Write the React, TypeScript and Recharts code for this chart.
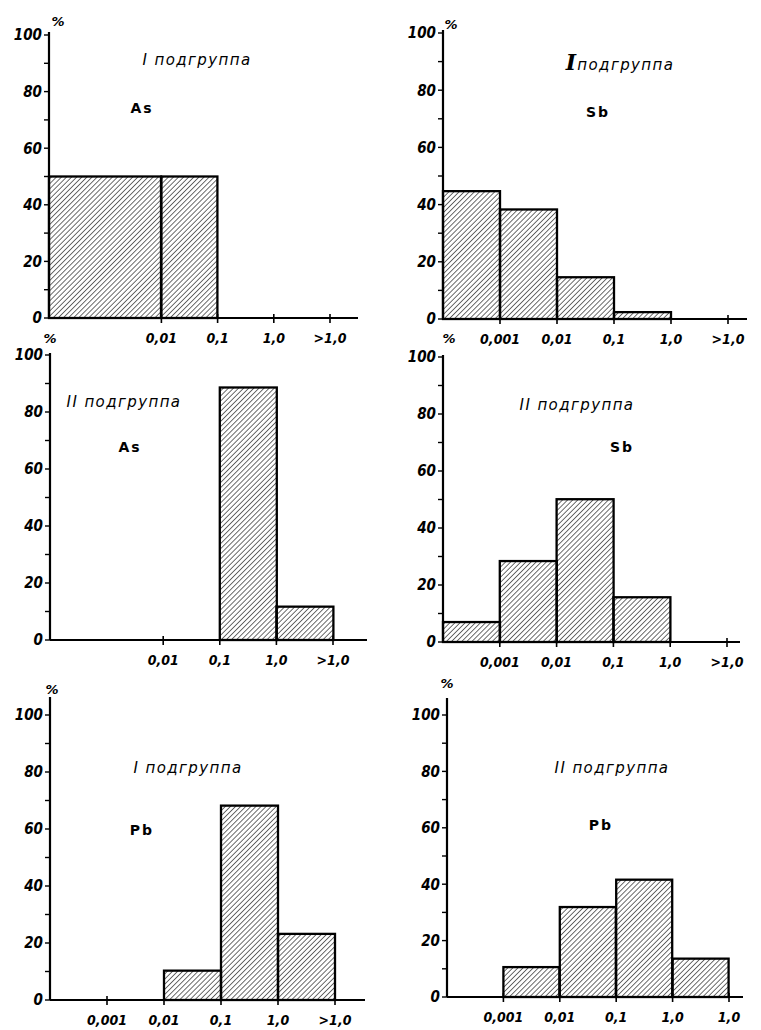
import React from 'react';
import { BarChart, Bar, XAxis, YAxis } from 'recharts';

// ---------- data ----------
const bins = ['b0', 'b1', 'b2', 'b3', 'b4'];
const yTicks = [0, 10, 20, 30, 40, 50, 60, 70, 80, 90, 100];

const asIValues = [50, null, 50, 0, 0];
const asISpans = [2, 1, 1, 1, 1];
const asILabels = ['', '', '0,01', '0,1', '1,0', '>1,0'];

const sbIValues = [44.7, 38.3, 14.6, 2.4, 0];
const sbILabels = ['', '0,001', '0,01', '0,1', '1,0', '>1,0'];

const asIIValues = [0, 0, 0, 88.6, 11.7];
const asIILabels = ['', '', '0,01', '0,1', '1,0', '>1,0'];

const sbIIValues = [7.0, 28.4, 50.1, 15.7, 0];
const sbIILabels = ['', '0,001', '0,01', '0,1', '1,0', '>1,0'];

const pbIValues = [0, 0, 10.3, 68.2, 23.2];
const pbILabels = ['', '0,001', '0,01', '0,1', '1,0', '>1,0'];

const pbIIValues = [0, 10.6, 31.9, 41.6, 13.6];
const pbIILabels = ['', '0,001', '0,01', '0,1', '1,0', '1,0'];

const defaultSpans = [1, 1, 1, 1, 1];

const FONT = "'DejaVu Sans Condensed', 'DejaVu Sans', sans-serif";
const YAXIS_W = 48;

const makeData = (values: (number | null)[], spans: number[]) =>
  bins.map((b, i) => ({ bin: b, v: values[i], span: spans[i] }));

const HatchBar = (props: any) => {
  const { x, y, width, height, payload } = props;
  if (!height || height <= 0 || payload?.v == null) return <g />;
  const w = width * (payload.span || 1);
  return (
    <rect x={x} y={y} width={w} height={height} fill="url(#hatch)" stroke="#000" strokeWidth={2.3} />
  );
};

const makeXTick = (labels: string[], n: number, slot: number) => (props: any) => {
  const { x, y, payload, index } = props;
  const off = typeof payload?.offset === 'number' ? payload.offset : slot / 2;
  const i = typeof payload?.index === 'number' ? payload.index : index;
  const items: { bx: number; label: string }[] = [{ bx: x - off, label: labels[i] }];
  if (i === n - 1) items.push({ bx: x + off, label: labels[n] });
  return (
    <g>
      {items.map((it, k) =>
        it.label ? (
          <g key={k}>
            <line x1={it.bx} x2={it.bx} y1={y - 4} y2={y + 5} stroke="#000" strokeWidth={1.6} />
            <text
              x={it.bx}
              y={y + 25}
              textAnchor="middle"
              fill="#000"
              fontFamily={FONT}
              fontStyle="italic"
              fontWeight={700}
              fontSize={14}
            >
              {it.label}
            </text>
          </g>
        ) : null
      )}
    </g>
  );
};

type PanelProps = {
  x0: number;
  y0: number;
  y100: number;
  yTop: number;
  slot: number;
  ext: number;
  values: (number | null)[];
  spans?: number[];
  labels: string[];
};

const Panel = ({ x0, y0, y100, yTop, slot, ext, values, spans, labels }: PanelProps) => {
  const n = bins.length;
  const plotW = n * slot + ext;
  const plotH = y0 - yTop;
  const mt = 14;
  const xh = 36;
  const width = YAXIS_W + plotW + 6;
  const height = mt + plotH + xh;
  const data = makeData(values, spans || defaultSpans);
  return (
    <div style={{ position: 'absolute', left: x0 - YAXIS_W, top: yTop - mt }}>
      <BarChart
        width={width}
        height={height}
        data={data}
        margin={{ top: mt, right: 6, left: 0, bottom: 0 }}
        barCategoryGap={0}
        barGap={0}
      >
        <XAxis
          dataKey="bin"
          type="category"
          interval={0}
          height={xh}
          padding={{ left: 0, right: ext }}
          axisLine={{ stroke: '#000', strokeWidth: 2.2 }}
          tickLine={false}
          tickSize={0}
          tickMargin={0}
          tick={makeXTick(labels, n, slot)}
        />
        <YAxis
          type="number"
          domain={[0, 100]}
          ticks={yTicks}
          interval={0}
          width={YAXIS_W}
          padding={{ top: y100 - yTop, bottom: 0 }}
          axisLine={{ stroke: '#000', strokeWidth: 2.2 }}
          tickLine={{ stroke: '#000', strokeWidth: 1.4 }}
          tickSize={5}
          tickMargin={2}
          tickFormatter={(v: number) => (v % 20 === 0 ? String(v) : '')}
          tick={{ fill: '#000', fontSize: 15, fontStyle: 'italic', fontWeight: 700, fontFamily: FONT }}
        />
        <Bar dataKey="v" isAnimationActive={false} shape={HatchBar} />
      </BarChart>
    </div>
  );
};

const Txt = ({ x, y, children, style }: { x: number; y: number; children: React.ReactNode; style?: React.CSSProperties }) => (
  <div
    style={{
      position: 'absolute',
      left: x,
      top: y,
      transform: 'translate(-50%, -50%)',
      whiteSpace: 'nowrap',
      fontFamily: "'DejaVu Sans', sans-serif",
      color: '#000',
      lineHeight: 1,
      ...style,
    }}
  >
    {children}
  </div>
);

const titleStyle: React.CSSProperties = { fontSize: 15, fontStyle: 'italic', letterSpacing: 1.4 };
const elemStyle: React.CSSProperties = { fontSize: 14, fontWeight: 700, letterSpacing: 2 };
const unitStyle: React.CSSProperties = { fontSize: 13, fontStyle: 'italic', fontWeight: 700 };

export default function App() {
  return (
    <div style={{ position: 'absolute', left: 0, top: 0, width: 761, height: 1030, background: '#fff', overflow: 'hidden' }}>
      <svg width={0} height={0} style={{ position: 'absolute' }}>
        <defs>
          <pattern id="hatch" patternUnits="userSpaceOnUse" width={3.6} height={3.6} patternTransform="rotate(45)">
            <line x1={0} y1={0} x2={0} y2={3.6} stroke="#000" strokeWidth={1.15} />
          </pattern>
        </defs>
      </svg>

      <Panel x0={49} y0={318} y100={35} yTop={32} slot={56.2} ext={28} values={asIValues} spans={asISpans} labels={asILabels} />
      <Panel x0={443} y0={319} y100={33} yTop={30} slot={57} ext={19} values={sbIValues} labels={sbILabels} />
      <Panel x0={50} y0={640} y100={355} yTop={353} slot={56.6} ext={34} values={asIIValues} labels={asIILabels} />
      <Panel x0={443} y0={642} y100={357} yTop={355} slot={56.8} ext={13} values={sbIIValues} labels={sbIILabels} />
      <Panel x0={50} y0={1000} y100={715} yTop={697} slot={57} ext={30} values={pbIValues} labels={pbILabels} />
      <Panel x0={447} y0={997} y100={715} yTop={698} slot={56.4} ext={14} values={pbIIValues} labels={pbIILabels} />

      {/* unit labels */}
      <Txt x={58} y={21} style={unitStyle}>%</Txt>
      <Txt x={451} y={24} style={unitStyle}>%</Txt>
      <Txt x={50} y={338} style={unitStyle}>%</Txt>
      <Txt x={449} y={338} style={unitStyle}>%</Txt>
      <Txt x={52} y={689} style={unitStyle}>%</Txt>
      <Txt x={447} y={683} style={unitStyle}>%</Txt>

      {/* titles */}
      <Txt x={197} y={60} style={titleStyle}>I подгруппа</Txt>
      <Txt x={620} y={62} style={titleStyle}>
        <span style={{ fontSize: 22, fontWeight: 700, fontFamily: "'DejaVu Serif', serif" }}>I</span>подгруппа
      </Txt>
      <Txt x={124} y={402} style={titleStyle}>II подгруппа</Txt>
      <Txt x={577} y={405} style={titleStyle}>II подгруппа</Txt>
      <Txt x={188} y={768} style={titleStyle}>I подгруппа</Txt>
      <Txt x={612} y={768} style={titleStyle}>II подгруппа</Txt>

      {/* element labels */}
      <Txt x={142} y={108} style={elemStyle}>As</Txt>
      <Txt x={598} y={112} style={elemStyle}>Sb</Txt>
      <Txt x={130} y={447} style={elemStyle}>As</Txt>
      <Txt x={622} y={447} style={elemStyle}>Sb</Txt>
      <Txt x={142} y={830} style={elemStyle}>Pb</Txt>
      <Txt x={601} y={825} style={elemStyle}>Pb</Txt>
    </div>
  );
}
